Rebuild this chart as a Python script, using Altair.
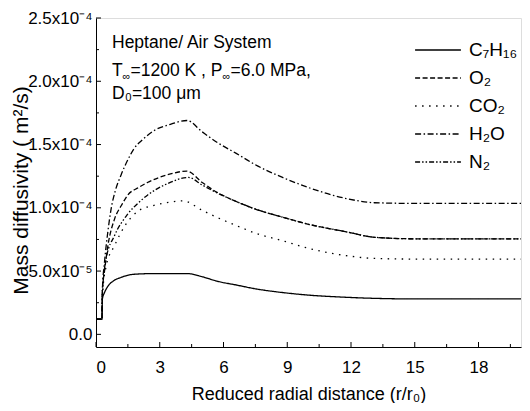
import altair as alt
import pandas as pd

FONT = "Liberation Sans, Arial, sans-serif"

species = ["C₇H₁₆", "O₂", "CO₂", "H₂O", "N₂"]
dashes = [[1, 0], [5, 2.5], [1.5, 5.5], [6, 2.5, 1.5, 2.5], [5, 2, 1.5, 2, 1.5, 2]]

c7h16_x = [0.0, 0.28, 0.30, 0.40, 0.56, 0.80, 1.18, 1.80, 2.70, 3.50, 4.30, 5.00, 5.70, 6.60, 7.50, 8.80, 10.0, 11.5, 13.0, 15.0, 17.5, 20.0]
c7h16_y = [1.2e-5, 1.2e-5, 2.8e-5, 3.3e-5, 3.8e-5, 4.2e-5, 4.5e-5, 4.75e-5, 4.8e-5, 4.8e-5, 4.8e-5, 4.55e-5, 4.2e-5, 3.9e-5, 3.6e-5, 3.3e-5, 3.1e-5, 2.95e-5, 2.85e-5, 2.8e-5, 2.8e-5, 2.8e-5]

o2_x = [0.0, 0.28, 0.30, 0.40, 0.56, 0.87, 1.20, 1.49, 2.00, 2.42, 3.35, 4.28, 5.00, 5.67, 6.60, 7.50, 8.78, 10.0, 11.87, 13.1, 15.0, 17.5, 20.0]
o2_y = [1.2e-5, 1.2e-5, 3.5e-5, 5.0e-5, 7.0e-5, 9.1e-5, 1.02e-4, 1.10e-4, 1.16e-4, 1.20e-4, 1.26e-4, 1.29e-4, 1.20e-4, 1.125e-4, 1.05e-4, 9.9e-5, 9.26e-5, 8.7e-5, 8.07e-5, 7.67e-5, 7.55e-5, 7.54e-5, 7.54e-5]

co2_x = [0.0, 0.28, 0.30, 0.48, 0.87, 1.33, 1.95, 2.73, 3.50, 4.10, 5.00, 5.67, 6.60, 7.50, 8.78, 10.0, 11.87, 13.1, 15.0, 17.5, 20.0]
co2_y = [1.2e-5, 1.2e-5, 3.0e-5, 5.4e-5, 7.0e-5, 8.5e-5, 9.7e-5, 1.02e-4, 1.045e-4, 1.055e-4, 9.8e-5, 9.26e-5, 8.6e-5, 8.0e-5, 7.4e-5, 6.8e-5, 6.2e-5, 6.0e-5, 5.95e-5, 5.95e-5, 5.95e-5]

h2o_x = [0.0, 0.28, 0.30, 0.40, 0.55, 0.71, 0.90, 1.18, 1.50, 1.80, 2.20, 2.73, 3.50, 4.28, 5.00, 5.67, 6.60, 7.50, 8.78, 10.0, 11.87, 13.1, 15.0, 17.5, 20.0]
h2o_y = [1.2e-5, 1.2e-5, 3.5e-5, 5.7e-5, 8.0e-5, 9.9e-5, 1.13e-4, 1.26e-4, 1.38e-4, 1.47e-4, 1.54e-4, 1.61e-4, 1.66e-4, 1.69e-4, 1.60e-4, 1.52e-4, 1.43e-4, 1.34e-4, 1.24e-4, 1.16e-4, 1.07e-4, 1.04e-4, 1.035e-4, 1.035e-4, 1.035e-4]

n2_x = [0.0, 0.28, 0.30, 0.48, 0.87, 1.49, 2.00, 2.42, 3.35, 4.35, 5.00, 5.67, 6.60, 7.50, 8.78, 10.0, 11.87, 13.1, 15.0, 17.5, 20.0]
n2_y = [1.2e-5, 1.2e-5, 3.2e-5, 6.0e-5, 7.8e-5, 9.5e-5, 1.04e-4, 1.10e-4, 1.19e-4, 1.24e-4, 1.18e-4, 1.12e-4, 1.05e-4, 9.9e-5, 9.26e-5, 8.7e-5, 8.07e-5, 7.67e-5, 7.55e-5, 7.54e-5, 7.54e-5]

x_major = [0, 3, 6, 9, 12, 15, 18]
x_minor = [1.5, 4.5, 7.5, 10.5, 13.5, 16.5, 19.5]
y_major = [0.0, 5e-5, 1e-4, 1.5e-4, 2e-4, 2.5e-4]
y_minor = [2.5e-5, 7.5e-5, 1.25e-4, 1.75e-4, 2.25e-4]

title_line = "Heptane/ Air System"
cond_parts = ["T", "∞", "=1200 K , P", "∞", "=6.0 MPa,"]
diam_line = "D₀=100 μm"

rows = []
for name, xs, ys in zip(species,
                        [c7h16_x, o2_x, co2_x, h2o_x, n2_x],
                        [c7h16_y, o2_y, co2_y, h2o_y, n2_y]):
    for i, (xv, yv) in enumerate(zip(xs, ys)):
        rows.append({"species": name, "r": xv, "D": yv, "i": i})
df = pd.DataFrame(rows)

W, H = 425, 329

xscale = alt.Scale(domain=[0, 20], nice=False, zero=False)
yscale = alt.Scale(domain=[-1e-5, 2.5e-4], nice=False, zero=False)

label_expr = ("datum.value == 0 ? '0.0' : (datum.value < 0.00009 ? "
              "format(datum.value*1e5, '.1f') + 'x10⁻⁵' : "
              "format(datum.value*1e4, '.1f') + 'x10⁻⁴')")

lines = alt.Chart(df).mark_line(color="black", strokeWidth=1.3, interpolate="monotone").encode(
    x=alt.X("r:Q", scale=xscale,
            axis=alt.Axis(values=x_major, ticks=False, labelPadding=12, labelFontSize=17,
                          labelFont=FONT, labelColor="black", domainColor="black",
                          title="Reduced radial distance (r/r₀)", titleFont=FONT,
                          titleFontSize=18, titleFontWeight="normal", titleColor="black",
                          titleY=52, titleBaseline="alphabetic", grid=False)),
    y=alt.Y("D:Q", scale=yscale,
            axis=alt.Axis(values=y_major, labelExpr=label_expr, ticks=False, labelPadding=4,
                          labelFontSize=17, labelFont=FONT, labelColor="black",
                          domainColor="black", title="Mass diffusivity ( m²/s)",
                          titleFont=FONT, titleFontSize=21, titleFontWeight="normal",
                          titleColor="black", titleX=-75, titleY=172,
                          titleBaseline="middle", titleAlign="center", grid=False)),
    strokeDash=alt.StrokeDash("species:N",
                              scale=alt.Scale(domain=species, range=dashes),
                              legend=alt.Legend(title=None, orient="none", legendX=318,
                                                legendY=22, padding=0, clipHeight=20,
                                                symbolType="stroke",
                                                symbolSize=2100, symbolStrokeWidth=1.3,
                                                symbolStrokeColor="black",
                                                labelFont=FONT, labelFontSize=19,
                                                labelColor="black", labelOffset=7,
                                                rowPadding=8)),
    order="i:Q",
)

xmaj = alt.Chart(pd.DataFrame({"v": x_major})).mark_rule(color="black").encode(
    x=alt.X("v:Q", scale=xscale), y=alt.value(H), y2=alt.value(H - 5))
xmin = alt.Chart(pd.DataFrame({"v": x_minor})).mark_rule(color="black").encode(
    x=alt.X("v:Q", scale=xscale), y=alt.value(H), y2=alt.value(H - 3))
ymaj = alt.Chart(pd.DataFrame({"v": y_major})).mark_rule(color="black").encode(
    y=alt.Y("v:Q", scale=yscale), x=alt.value(0), x2=alt.value(5))
ymin = alt.Chart(pd.DataFrame({"v": y_minor})).mark_rule(color="black").encode(
    y=alt.Y("v:Q", scale=yscale), x=alt.value(0), x2=alt.value(3))


def txt(s, x, y, size=17.5):
    return alt.Chart(pd.DataFrame({"t": [s]})).mark_text(
        align="left", baseline="alphabetic", font=FONT, fontSize=size, color="black"
    ).encode(text="t:N", x=alt.value(x), y=alt.value(y))


ann_layers = [
    txt(title_line, 16, 30),
    txt(cond_parts[0], 16, 58),
    txt(cond_parts[1], 26.5, 62, 11),
    txt(cond_parts[2], 34.5, 58),
    txt(cond_parts[3], 126.5, 62, 11),
    txt(cond_parts[4], 134.5, 58),
    txt(diam_line, 16, 81),
]

chart = alt.layer(lines, xmaj, xmin, ymaj, ymin, *ann_layers).properties(
    width=W, height=H,
    autosize=alt.AutoSizeParams(type="none"),
    padding={"left": 88, "top": 10, "right": 1, "bottom": 56},
).configure_view(stroke="black", strokeWidth=1).configure(background="white")

chart.save("out.html", embed_options={"renderer": "svg", "actions": False})
